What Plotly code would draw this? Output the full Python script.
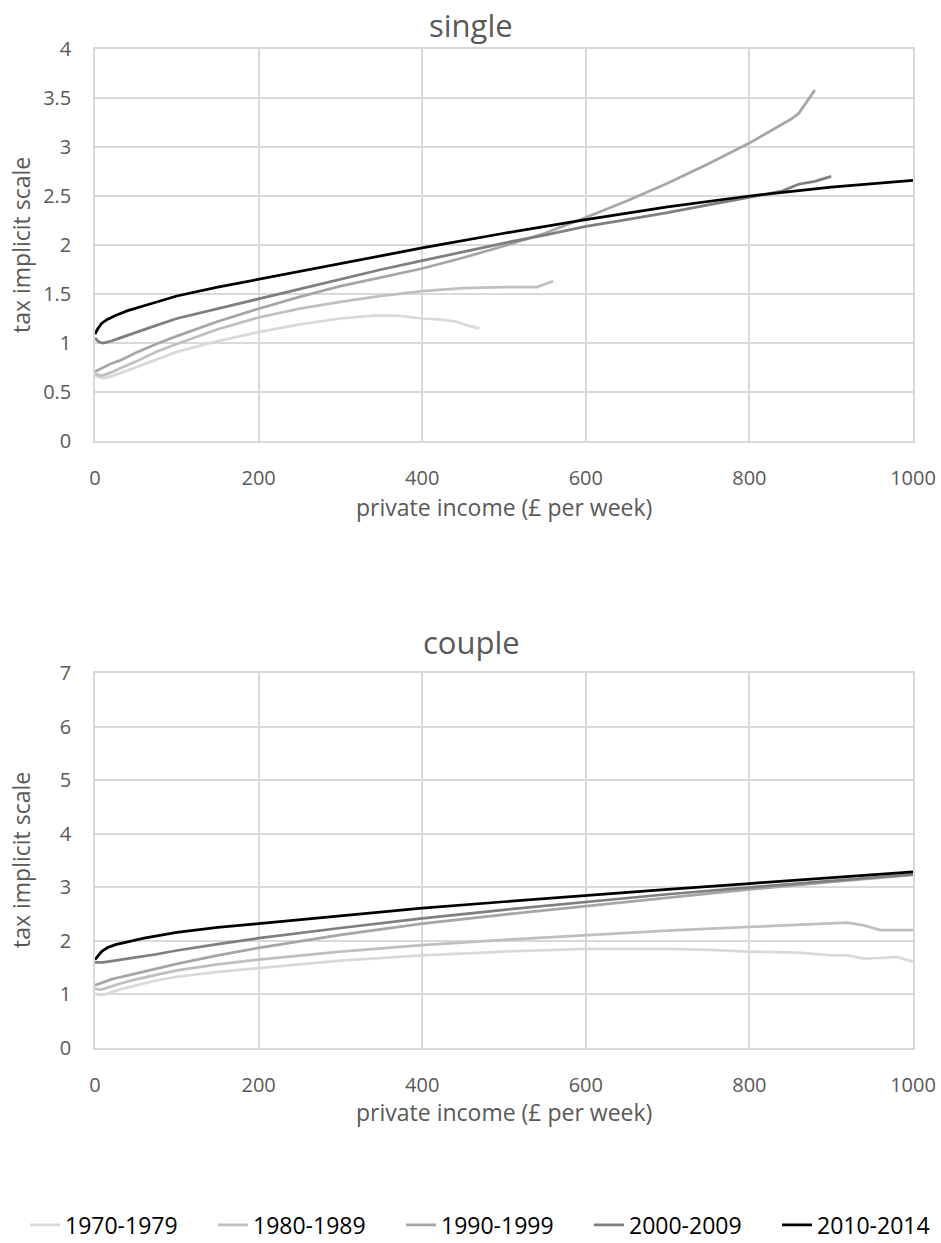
import plotly.graph_objects as go
from plotly.subplots import make_subplots

# Series labels and line colours
periods = ["1970-1979", "1980-1989", "1990-1999", "2000-2009", "2010-2014"]
colors = ["#d9d9d9", "#bfbfbf", "#a6a6a6", "#7f7f7f", "#000000"]

# Single households: private income (£ per week) vs tax implicit scale
single_x_1970 = [0, 5, 10, 20, 30, 50, 75, 100, 150, 200, 250, 300, 340, 370, 400, 420, 440, 455, 470]
single_y_1970 = [0.67, 0.65, 0.64, 0.66, 0.69, 0.75, 0.83, 0.91, 1.02, 1.11, 1.19, 1.25, 1.28, 1.28, 1.25, 1.24, 1.22, 1.18, 1.15]

single_x_1980 = [0, 5, 10, 20, 30, 50, 75, 100, 150, 200, 250, 300, 350, 400, 450, 500, 540, 560]
single_y_1980 = [0.69, 0.67, 0.67, 0.70, 0.74, 0.81, 0.91, 0.99, 1.14, 1.26, 1.35, 1.42, 1.48, 1.53, 1.56, 1.57, 1.57, 1.63]

single_x_1990 = [0, 5, 10, 20, 30, 50, 75, 100, 150, 200, 250, 300, 350, 400, 450, 500, 550, 600,
                 650, 700, 750, 800, 850, 860, 880]
single_y_1990 = [0.71, 0.73, 0.75, 0.79, 0.82, 0.90, 0.99, 1.07, 1.22, 1.35, 1.47, 1.58, 1.67, 1.76, 1.87, 1.99, 2.12, 2.28,
                 2.45, 2.63, 2.83, 3.04, 3.28, 3.34, 3.58]

single_x_2000 = [0, 5, 10, 20, 30, 50, 75, 100, 150, 200, 250, 300, 350, 400, 450, 500, 550, 600,
                 650, 700, 750, 800, 840, 860, 880, 900]
single_y_2000 = [1.05, 1.01, 1.00, 1.02, 1.05, 1.11, 1.18, 1.25, 1.35, 1.45, 1.55, 1.65, 1.75, 1.84, 1.93, 2.02, 2.10, 2.19,
                 2.26, 2.33, 2.41, 2.49, 2.55, 2.62, 2.65, 2.70]

single_x_2010 = [0, 3, 8, 15, 25, 40, 60, 100, 150, 200, 300, 400, 500, 600, 700, 800, 900, 1000]
single_y_2010 = [1.09, 1.14, 1.20, 1.24, 1.28, 1.33, 1.38, 1.48, 1.57, 1.65, 1.81, 1.97, 2.12, 2.26, 2.39, 2.50, 2.59, 2.66]

# Couples
couple_x_1970 = [0, 5, 10, 20, 30, 50, 75, 100, 150, 200, 250, 300, 400, 500, 600, 700, 750, 800,
                 860, 900, 920, 940, 960, 980, 1000]
couple_y_1970 = [1.02, 0.99, 0.99, 1.04, 1.09, 1.17, 1.26, 1.33, 1.42, 1.49, 1.56, 1.63, 1.73, 1.80, 1.85, 1.85, 1.83, 1.80,
                 1.78, 1.73, 1.73, 1.67, 1.68, 1.70, 1.61]

couple_x_1980 = [0, 5, 10, 20, 30, 50, 75, 100, 150, 200, 300, 400, 500, 600, 700, 800, 860, 900, 920, 940, 960, 1000]
couple_y_1980 = [1.11, 1.09, 1.10, 1.15, 1.20, 1.28, 1.37, 1.45, 1.56, 1.65, 1.80, 1.92, 2.02, 2.11, 2.19, 2.26, 2.30, 2.33,
                 2.34, 2.29, 2.20, 2.20]

couple_x_1990 = [0, 5, 10, 20, 30, 50, 75, 100, 150, 200, 300, 400, 500, 600, 700, 800, 900, 1000]
couple_y_1990 = [1.17, 1.20, 1.23, 1.28, 1.32, 1.39, 1.48, 1.57, 1.73, 1.87, 2.11, 2.32, 2.49, 2.65, 2.81, 2.96, 3.10, 3.23]

couple_x_2000 = [0, 5, 10, 20, 30, 50, 75, 100, 150, 200, 300, 400, 500, 600, 700, 800, 900, 1000]
couple_y_2000 = [1.60, 1.60, 1.60, 1.62, 1.64, 1.69, 1.75, 1.82, 1.94, 2.05, 2.24, 2.42, 2.58, 2.73, 2.87, 3.00, 3.12, 3.24]

couple_x_2010 = [0, 3, 8, 15, 25, 40, 60, 100, 150, 200, 300, 400, 500, 600, 700, 800, 900, 1000]
couple_y_2010 = [1.65, 1.71, 1.80, 1.87, 1.93, 1.98, 2.05, 2.16, 2.25, 2.32, 2.47, 2.61, 2.73, 2.85, 2.96, 3.07, 3.18, 3.29]

x_ticks = [0, 200, 400, 600, 800, 1000]

single_series = [(single_x_1970, single_y_1970), (single_x_1980, single_y_1980), (single_x_1990, single_y_1990),
                 (single_x_2000, single_y_2000), (single_x_2010, single_y_2010)]
couple_series = [(couple_x_1970, couple_y_1970), (couple_x_1980, couple_y_1980), (couple_x_1990, couple_y_1990),
                 (couple_x_2000, couple_y_2000), (couple_x_2010, couple_y_2010)]

FONT = "Open Sans"
TEXT_GREY = "#595959"
GRID = "#d9d9d9"

fig = make_subplots(rows=2, cols=1)

for i, (name, col) in enumerate(zip(periods, colors)):
    sx, sy = single_series[i]
    fig.add_trace(go.Scatter(x=sx, y=sy, mode="lines", name=name, legendgroup=name,
                             line=dict(color=col, width=2.75)), row=1, col=1)
    cx, cy = couple_series[i]
    fig.add_trace(go.Scatter(x=cx, y=cy, mode="lines", name=name, legendgroup=name, showlegend=False,
                             line=dict(color=col, width=2.75)), row=2, col=1)

W, H = 941, 1243
x_dom = [95 / W, 913 / W]
top_dom = [1 - 441 / H, 1 - 49 / H]
bot_dom = [1 - 1048 / H, 1 - 673 / H]

axis_common = dict(showgrid=True, gridcolor=GRID, gridwidth=1.5, zeroline=False,
                   showline=True, linecolor=GRID, linewidth=1.5, mirror=True,
                   tickfont=dict(family=FONT, size=20, color=TEXT_GREY),
                   ticks="", ticklabelstandoff=18, automargin=False)

fig.update_xaxes(range=[0, 1000], tickvals=x_ticks, domain=x_dom, **axis_common)
fig.update_yaxes(**axis_common)
fig.update_layout(
    yaxis=dict(range=[0, 4], dtick=0.5, domain=top_dom),
    yaxis2=dict(range=[0, 7], dtick=1, domain=bot_dom),
)

title_font = dict(family=FONT, size=31, color=TEXT_GREY)
label_font = dict(family=FONT, size=23, color=TEXT_GREY)

annotations = [
    dict(text="single", x=471 / W, y=1 - 25 / H),
    dict(text="couple", x=471 / W, y=1 - 642 / H),
]
annotations = [dict(a, xref="paper", yref="paper", showarrow=False, font=title_font,
                    xanchor="center", yanchor="middle") for a in annotations]

for yc in (507, 1112):
    annotations.append(dict(text="private income (£ per week)", xref="paper", yref="paper",
                            x=(95 + 913) / 2 / W, y=1 - yc / H, showarrow=False,
                            font=label_font, xanchor="center", yanchor="middle"))
for yc in (245, 860):
    annotations.append(dict(text="tax implicit scale", xref="paper", yref="paper",
                            x=21 / W, y=1 - yc / H, showarrow=False, textangle=-90,
                            font=label_font, xanchor="center", yanchor="middle"))

fig.update_layout(
    width=W, height=H, autosize=False,
    margin=dict(l=0, r=0, t=0, b=0, autoexpand=False),
    paper_bgcolor="white", plot_bgcolor="white",
    font=dict(family=FONT),
    annotations=annotations,
    showlegend=True,
    legend=dict(orientation="h", x=25 / W, xanchor="left", y=1 - 1225 / H, yanchor="middle",
                font=dict(family=FONT, size=23, color="#000000"),
                entrywidth=143, entrywidthmode="pixels",
                itemwidth=30, tracegroupgap=0, bgcolor="rgba(0,0,0,0)"),
)

fig.write_html("out.html")
